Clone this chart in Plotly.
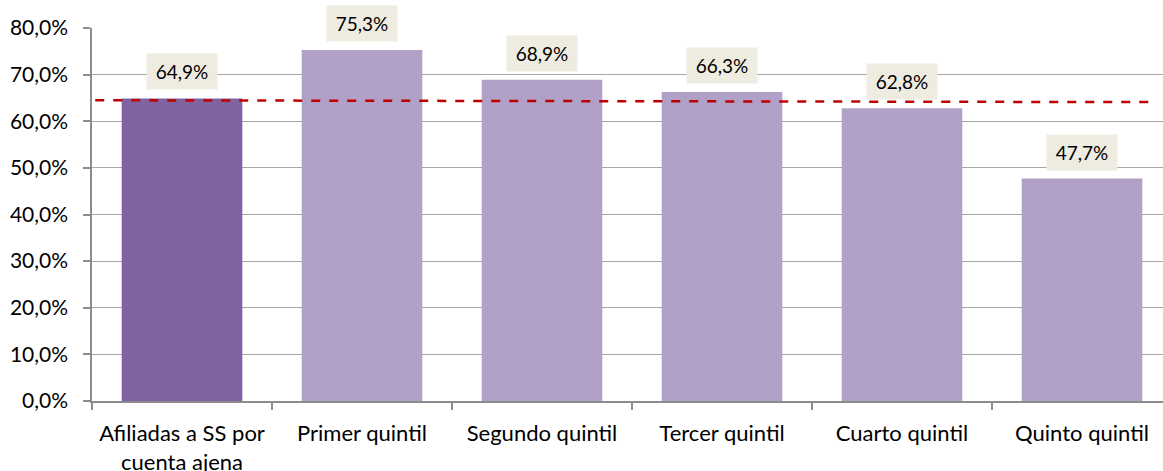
import plotly.graph_objects as go

categories = ["Afiliadas a SS por<br>cuenta ajena", "Primer quintil", "Segundo quintil",
              "Tercer quintil", "Cuarto quintil", "Quinto quintil"]
values = [64.9, 75.3, 68.9, 66.3, 62.8, 47.7]
reference_line = [64.5, 64.1]  # start / end of the dashed red line
bar_colors = ["#8064A2", "#B1A0C7", "#B1A0C7", "#B1A0C7", "#B1A0C7", "#B1A0C7"]
y_ticks = [0, 10, 20, 30, 40, 50, 60, 70, 80]
y_tick_labels = [f"{v:.1f}%".replace(".", ",") for v in y_ticks]

FONT = "Lato, Open Sans, sans-serif"

fig = go.Figure()
fig.add_trace(go.Bar(x=categories, y=values, marker=dict(color=bar_colors, line=dict(width=0)),
                     hoverinfo="skip", showlegend=False))

# dashed average line
fig.add_shape(type="line", xref="paper", yref="y", x0=0.003, x1=0.9815,
              y0=reference_line[0], y1=reference_line[1],
              line=dict(color="#C00000", width=2.5, dash="dash"))

for c, v in zip(categories, values):
    fig.add_annotation(x=c, y=v, text=f"{v:.1f}%".replace(".", ","), showarrow=False,
                       yanchor="bottom", yshift=8, bgcolor="#EEECE1", borderpad=0,
                       width=70, height=35,
                       font=dict(family=FONT, size=19, color="#000000"))

# the reference chart is cropped on the right: plot area extends past the window edge
fig.update_layout(
    width=1180, height=471,
    margin=dict(l=92, r=8, t=28, b=70, autoexpand=False),
    paper_bgcolor="white", plot_bgcolor="white",
    bargap=0.33,
    font=dict(family=FONT, size=21, color="#000000"),
    xaxis=dict(showline=True, linecolor="#8C8C8C", linewidth=1.5, ticks="outside",
               tickson="boundaries", ticklen=7, tickcolor="#8C8C8C", tickwidth=1.5,
               ticklabelstandoff=12, automargin=False,
               tickfont=dict(family=FONT, size=22), showgrid=False),
    yaxis=dict(range=[0, 80], tickvals=y_ticks, ticktext=y_tick_labels,
               showline=True, linecolor="#8C8C8C", linewidth=1.5, ticks="outside",
               ticklen=7, tickcolor="#8C8C8C", tickwidth=1.5, ticklabelstandoff=11,
               automargin=False,
               showgrid=True, gridcolor="#A6A6A6", gridwidth=1.2,
               tickfont=dict(family=FONT, size=21), zeroline=False),
)

fig.write_html("out.html", config={"displayModeBar": False},
               post_script="document.body.style.margin='0';document.body.style.overflow='hidden';"
                           "document.documentElement.style.overflow='hidden';")
